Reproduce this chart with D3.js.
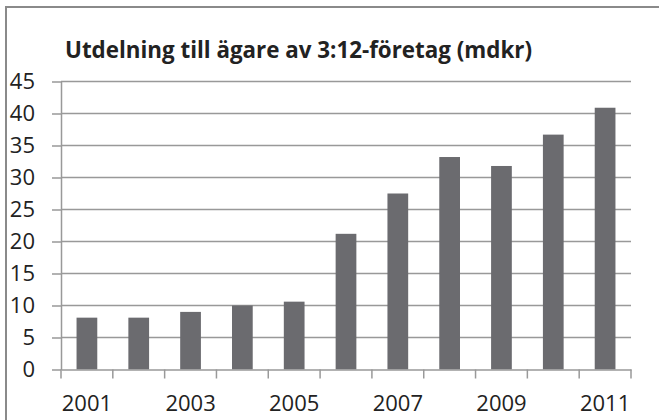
<!DOCTYPE html>
<html><head><meta charset="utf-8">
<script src="https://cdn.jsdelivr.net/npm/d3@7"></script>
<style>body{margin:0;background:#fff}svg{display:block}</style>
</head><body>
<svg id="c" width="659" height="420"></svg>
<script>
const years = ["2001","2002","2003","2004","2005","2006","2007","2008","2009","2010","2011"];
const values = [8.1, 8.1, 9.0, 10.0, 10.6, 21.2, 27.5, 33.2, 31.8, 36.7, 40.9];
const yTicks = [0,5,10,15,20,25,30,35,40,45];
const xLabels = ["2001","2003","2005","2007","2009","2011"];
const title = "Utdelning till ägare av 3:12-företag (mdkr)";

(function(){
const svg = d3.select("#c");
const mLeft = 61, mRight = 631, mTop = 81.5, mBottom = 369.5;
const xb = d3.scaleBand().domain(years).range([mLeft, mRight]);
const y = d3.scaleLinear().domain([0,45]).range([mBottom, mTop]);

svg.append("rect").attr("x",6).attr("y",7).attr("width",700).attr("height",500)
  .attr("fill","#fff").attr("stroke","#8a8a8a").attr("stroke-width",2);

// y axis + gridlines
const ya = svg.append("g").attr("transform",`translate(${mLeft},0)`)
  .call(d3.axisLeft(y).tickValues(yTicks).tickSize(9).tickSizeOuter(0).tickPadding(17));
ya.select(".domain").attr("stroke","#999").attr("stroke-width",1.5);
ya.selectAll(".tick line").attr("stroke","#999").attr("stroke-width",1.5);
ya.selectAll(".tick text").attr("fill","#222").style("font-family","Open Sans").style("font-size","22px");
svg.append("g").selectAll("line").data(yTicks.filter(d=>d>0)).join("line")
  .attr("x1",mLeft).attr("x2",mRight).attr("y1",d=>y(d)).attr("y2",d=>y(d))
  .attr("stroke","#999").attr("stroke-width",1.5);

// bars
svg.append("g").selectAll("rect").data(values).join("rect")
  .attr("x",(d,i)=>xb(years[i]) + xb.bandwidth()*0.3)
  .attr("width",xb.bandwidth()*0.4)
  .attr("y",d=>y(d)).attr("height",d=>y(0)-y(d))
  .attr("fill","#6b6b6f");

// x axis
const xa = svg.append("g").attr("transform",`translate(0,${mBottom})`)
  .call(d3.axisBottom(xb).tickSize(0).tickPadding(26).tickFormat(d=>xLabels.includes(d)?d:""));
xa.select(".domain").attr("stroke","#999").attr("stroke-width",1.5);
xa.selectAll(".tick text").attr("fill","#222").style("font-family","Open Sans").style("font-size","22px");
const bounds = years.map(d=>xb(d)).concat([mRight]);
svg.append("g").selectAll("line").data(bounds).join("line")
  .attr("x1",d=>d).attr("x2",d=>d).attr("y1",mBottom).attr("y2",mBottom+9)
  .attr("stroke","#999").attr("stroke-width",1.5);

// title
const t = svg.append("text").attr("x",65).attr("y",58).text(title)
  .attr("fill","#222").style("font-family","Open Sans").style("font-weight","bold").style("font-size","18px");
const w = t.node().getComputedTextLength();
t.style("font-size", (18*467/w).toFixed(2)+"px");
})();
</script>
</body></html>
